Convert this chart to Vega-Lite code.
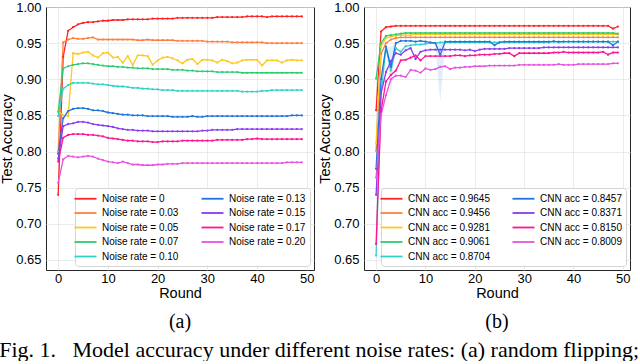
{
"$schema": "https://vega.github.io/schema/vega-lite/v6.json",
"padding": {"left": -1, "top": 0, "right": 0, "bottom": 0},
"spacing": 2,
"datasets": {
"a": [
{"r":0,"s":"0","v":0.740},{"r":1,"s":"0","v":0.931},{"r":2,"s":"0","v":0.967},{"r":3,"s":"0","v":0.972},{"r":4,"s":"0","v":0.976},{"r":5,"s":"0","v":0.978},{"r":6,"s":"0","v":0.979},{"r":7,"s":"0","v":0.979},{"r":8,"s":"0","v":0.980},{"r":9,"s":"0","v":0.981},
{"r":10,"s":"0","v":0.981},{"r":11,"s":"0","v":0.982},{"r":12,"s":"0","v":0.982},{"r":13,"s":"0","v":0.982},{"r":14,"s":"0","v":0.983},{"r":15,"s":"0","v":0.983},{"r":16,"s":"0","v":0.983},{"r":17,"s":"0","v":0.983},{"r":18,"s":"0","v":0.983},{"r":19,"s":"0","v":0.984},
{"r":20,"s":"0","v":0.984},{"r":21,"s":"0","v":0.984},{"r":22,"s":"0","v":0.984},{"r":23,"s":"0","v":0.984},{"r":24,"s":"0","v":0.985},{"r":25,"s":"0","v":0.985},{"r":26,"s":"0","v":0.985},{"r":27,"s":"0","v":0.985},{"r":28,"s":"0","v":0.985},{"r":29,"s":"0","v":0.985},
{"r":30,"s":"0","v":0.985},{"r":31,"s":"0","v":0.985},{"r":32,"s":"0","v":0.986},{"r":33,"s":"0","v":0.986},{"r":34,"s":"0","v":0.986},{"r":35,"s":"0","v":0.986},{"r":36,"s":"0","v":0.986},{"r":37,"s":"0","v":0.986},{"r":38,"s":"0","v":0.987},{"r":39,"s":"0","v":0.987},
{"r":40,"s":"0","v":0.987},{"r":41,"s":"0","v":0.987},{"r":42,"s":"0","v":0.986},{"r":43,"s":"0","v":0.987},{"r":44,"s":"0","v":0.987},{"r":45,"s":"0","v":0.987},{"r":46,"s":"0","v":0.987},{"r":47,"s":"0","v":0.987},{"r":48,"s":"0","v":0.987},{"r":49,"s":"0","v":0.987},
{"r":0,"s":"0.03","v":0.800},{"r":1,"s":"0.03","v":0.951},{"r":2,"s":"0.03","v":0.955},{"r":3,"s":"0.03","v":0.957},{"r":4,"s":"0.03","v":0.956},{"r":5,"s":"0.03","v":0.956},{"r":6,"s":"0.03","v":0.957},{"r":7,"s":"0.03","v":0.958},{"r":8,"s":"0.03","v":0.955},{"r":9,"s":"0.03","v":0.955},
{"r":10,"s":"0.03","v":0.955},{"r":11,"s":"0.03","v":0.955},{"r":12,"s":"0.03","v":0.955},{"r":13,"s":"0.03","v":0.955},{"r":14,"s":"0.03","v":0.955},{"r":15,"s":"0.03","v":0.955},{"r":16,"s":"0.03","v":0.954},{"r":17,"s":"0.03","v":0.954},{"r":18,"s":"0.03","v":0.955},{"r":19,"s":"0.03","v":0.954},
{"r":20,"s":"0.03","v":0.954},{"r":21,"s":"0.03","v":0.954},{"r":22,"s":"0.03","v":0.954},{"r":23,"s":"0.03","v":0.954},{"r":24,"s":"0.03","v":0.953},{"r":25,"s":"0.03","v":0.953},{"r":26,"s":"0.03","v":0.953},{"r":27,"s":"0.03","v":0.953},{"r":28,"s":"0.03","v":0.953},{"r":29,"s":"0.03","v":0.953},
{"r":30,"s":"0.03","v":0.952},{"r":31,"s":"0.03","v":0.952},{"r":32,"s":"0.03","v":0.952},{"r":33,"s":"0.03","v":0.952},{"r":34,"s":"0.03","v":0.952},{"r":35,"s":"0.03","v":0.951},{"r":36,"s":"0.03","v":0.951},{"r":37,"s":"0.03","v":0.951},{"r":38,"s":"0.03","v":0.951},{"r":39,"s":"0.03","v":0.951},
{"r":40,"s":"0.03","v":0.951},{"r":41,"s":"0.03","v":0.951},{"r":42,"s":"0.03","v":0.950},{"r":43,"s":"0.03","v":0.950},{"r":44,"s":"0.03","v":0.950},{"r":45,"s":"0.03","v":0.950},{"r":46,"s":"0.03","v":0.950},{"r":47,"s":"0.03","v":0.950},{"r":48,"s":"0.03","v":0.950},{"r":49,"s":"0.03","v":0.950},
{"r":0,"s":"0.05","v":0.856},{"r":1,"s":"0.05","v":0.850},{"r":2,"s":"0.05","v":0.849},{"r":3,"s":"0.05","v":0.936},{"r":4,"s":"0.05","v":0.935},{"r":5,"s":"0.05","v":0.937},{"r":6,"s":"0.05","v":0.938},{"r":7,"s":"0.05","v":0.933},{"r":8,"s":"0.05","v":0.930},{"r":9,"s":"0.05","v":0.936},
{"r":10,"s":"0.05","v":0.937},{"r":11,"s":"0.05","v":0.930},{"r":12,"s":"0.05","v":0.931},{"r":13,"s":"0.05","v":0.923},{"r":14,"s":"0.05","v":0.932},{"r":15,"s":"0.05","v":0.920},{"r":16,"s":"0.05","v":0.933},{"r":17,"s":"0.05","v":0.933},{"r":18,"s":"0.05","v":0.932},{"r":19,"s":"0.05","v":0.920},
{"r":20,"s":"0.05","v":0.926},{"r":21,"s":"0.05","v":0.930},{"r":22,"s":"0.05","v":0.931},{"r":23,"s":"0.05","v":0.929},{"r":24,"s":"0.05","v":0.926},{"r":25,"s":"0.05","v":0.922},{"r":26,"s":"0.05","v":0.927},{"r":27,"s":"0.05","v":0.928},{"r":28,"s":"0.05","v":0.921},{"r":29,"s":"0.05","v":0.927},
{"r":30,"s":"0.05","v":0.927},{"r":31,"s":"0.05","v":0.926},{"r":32,"s":"0.05","v":0.923},{"r":33,"s":"0.05","v":0.927},{"r":34,"s":"0.05","v":0.925},{"r":35,"s":"0.05","v":0.922},{"r":36,"s":"0.05","v":0.923},{"r":37,"s":"0.05","v":0.926},{"r":38,"s":"0.05","v":0.927},{"r":39,"s":"0.05","v":0.927},
{"r":40,"s":"0.05","v":0.927},{"r":41,"s":"0.05","v":0.919},{"r":42,"s":"0.05","v":0.926},{"r":43,"s":"0.05","v":0.926},{"r":44,"s":"0.05","v":0.926},{"r":45,"s":"0.05","v":0.923},{"r":46,"s":"0.05","v":0.926},{"r":47,"s":"0.05","v":0.927},{"r":48,"s":"0.05","v":0.926},{"r":49,"s":"0.05","v":0.926},
{"r":0,"s":"0.07","v":0.855},{"r":1,"s":"0.07","v":0.915},{"r":2,"s":"0.07","v":0.918},{"r":3,"s":"0.07","v":0.920},{"r":4,"s":"0.07","v":0.921},{"r":5,"s":"0.07","v":0.922},{"r":6,"s":"0.07","v":0.922},{"r":7,"s":"0.07","v":0.921},{"r":8,"s":"0.07","v":0.920},{"r":9,"s":"0.07","v":0.919},
{"r":10,"s":"0.07","v":0.918},{"r":11,"s":"0.07","v":0.918},{"r":12,"s":"0.07","v":0.917},{"r":13,"s":"0.07","v":0.917},{"r":14,"s":"0.07","v":0.916},{"r":15,"s":"0.07","v":0.916},{"r":16,"s":"0.07","v":0.915},{"r":17,"s":"0.07","v":0.915},{"r":18,"s":"0.07","v":0.915},{"r":19,"s":"0.07","v":0.914},
{"r":20,"s":"0.07","v":0.914},{"r":21,"s":"0.07","v":0.914},{"r":22,"s":"0.07","v":0.914},{"r":23,"s":"0.07","v":0.913},{"r":24,"s":"0.07","v":0.913},{"r":25,"s":"0.07","v":0.913},{"r":26,"s":"0.07","v":0.912},{"r":27,"s":"0.07","v":0.912},{"r":28,"s":"0.07","v":0.911},{"r":29,"s":"0.07","v":0.911},
{"r":30,"s":"0.07","v":0.911},{"r":31,"s":"0.07","v":0.911},{"r":32,"s":"0.07","v":0.910},{"r":33,"s":"0.07","v":0.910},{"r":34,"s":"0.07","v":0.910},{"r":35,"s":"0.07","v":0.910},{"r":36,"s":"0.07","v":0.910},{"r":37,"s":"0.07","v":0.909},{"r":38,"s":"0.07","v":0.909},{"r":39,"s":"0.07","v":0.909},
{"r":40,"s":"0.07","v":0.909},{"r":41,"s":"0.07","v":0.909},{"r":42,"s":"0.07","v":0.909},{"r":43,"s":"0.07","v":0.909},{"r":44,"s":"0.07","v":0.909},{"r":45,"s":"0.07","v":0.909},{"r":46,"s":"0.07","v":0.909},{"r":47,"s":"0.07","v":0.909},{"r":48,"s":"0.07","v":0.909},{"r":49,"s":"0.07","v":0.909},
{"r":0,"s":"0.10","v":0.849},{"r":1,"s":"0.10","v":0.887},{"r":2,"s":"0.10","v":0.892},{"r":3,"s":"0.10","v":0.895},{"r":4,"s":"0.10","v":0.895},{"r":5,"s":"0.10","v":0.895},{"r":6,"s":"0.10","v":0.895},{"r":7,"s":"0.10","v":0.894},{"r":8,"s":"0.10","v":0.893},{"r":9,"s":"0.10","v":0.893},
{"r":10,"s":"0.10","v":0.892},{"r":11,"s":"0.10","v":0.891},{"r":12,"s":"0.10","v":0.890},{"r":13,"s":"0.10","v":0.890},{"r":14,"s":"0.10","v":0.889},{"r":15,"s":"0.10","v":0.888},{"r":16,"s":"0.10","v":0.888},{"r":17,"s":"0.10","v":0.887},{"r":18,"s":"0.10","v":0.887},{"r":19,"s":"0.10","v":0.886},
{"r":20,"s":"0.10","v":0.886},{"r":21,"s":"0.10","v":0.885},{"r":22,"s":"0.10","v":0.885},{"r":23,"s":"0.10","v":0.885},{"r":24,"s":"0.10","v":0.884},{"r":25,"s":"0.10","v":0.884},{"r":26,"s":"0.10","v":0.884},{"r":27,"s":"0.10","v":0.884},{"r":28,"s":"0.10","v":0.884},{"r":29,"s":"0.10","v":0.884},
{"r":30,"s":"0.10","v":0.884},{"r":31,"s":"0.10","v":0.884},{"r":32,"s":"0.10","v":0.884},{"r":33,"s":"0.10","v":0.884},{"r":34,"s":"0.10","v":0.884},{"r":35,"s":"0.10","v":0.884},{"r":36,"s":"0.10","v":0.884},{"r":37,"s":"0.10","v":0.883},{"r":38,"s":"0.10","v":0.883},{"r":39,"s":"0.10","v":0.883},
{"r":40,"s":"0.10","v":0.883},{"r":41,"s":"0.10","v":0.884},{"r":42,"s":"0.10","v":0.884},{"r":43,"s":"0.10","v":0.885},{"r":44,"s":"0.10","v":0.885},{"r":45,"s":"0.10","v":0.885},{"r":46,"s":"0.10","v":0.885},{"r":47,"s":"0.10","v":0.885},{"r":48,"s":"0.10","v":0.885},{"r":49,"s":"0.10","v":0.885},
{"r":0,"s":"0.13","v":0.797},{"r":1,"s":"0.13","v":0.846},{"r":2,"s":"0.13","v":0.856},{"r":3,"s":"0.13","v":0.859},{"r":4,"s":"0.13","v":0.860},{"r":5,"s":"0.13","v":0.860},{"r":6,"s":"0.13","v":0.859},{"r":7,"s":"0.13","v":0.857},{"r":8,"s":"0.13","v":0.857},{"r":9,"s":"0.13","v":0.856},
{"r":10,"s":"0.13","v":0.854},{"r":11,"s":"0.13","v":0.853},{"r":12,"s":"0.13","v":0.852},{"r":13,"s":"0.13","v":0.851},{"r":14,"s":"0.13","v":0.851},{"r":15,"s":"0.13","v":0.850},{"r":16,"s":"0.13","v":0.850},{"r":17,"s":"0.13","v":0.850},{"r":18,"s":"0.13","v":0.849},{"r":19,"s":"0.13","v":0.849},
{"r":20,"s":"0.13","v":0.849},{"r":21,"s":"0.13","v":0.849},{"r":22,"s":"0.13","v":0.849},{"r":23,"s":"0.13","v":0.848},{"r":24,"s":"0.13","v":0.848},{"r":25,"s":"0.13","v":0.848},{"r":26,"s":"0.13","v":0.848},{"r":27,"s":"0.13","v":0.849},{"r":28,"s":"0.13","v":0.848},{"r":29,"s":"0.13","v":0.848},
{"r":30,"s":"0.13","v":0.849},{"r":31,"s":"0.13","v":0.849},{"r":32,"s":"0.13","v":0.849},{"r":33,"s":"0.13","v":0.849},{"r":34,"s":"0.13","v":0.849},{"r":35,"s":"0.13","v":0.849},{"r":36,"s":"0.13","v":0.849},{"r":37,"s":"0.13","v":0.849},{"r":38,"s":"0.13","v":0.849},{"r":39,"s":"0.13","v":0.849},
{"r":40,"s":"0.13","v":0.849},{"r":41,"s":"0.13","v":0.849},{"r":42,"s":"0.13","v":0.849},{"r":43,"s":"0.13","v":0.849},{"r":44,"s":"0.13","v":0.849},{"r":45,"s":"0.13","v":0.849},{"r":46,"s":"0.13","v":0.849},{"r":47,"s":"0.13","v":0.850},{"r":48,"s":"0.13","v":0.850},{"r":49,"s":"0.13","v":0.850},
{"r":0,"s":"0.15","v":0.790},{"r":1,"s":"0.15","v":0.835},{"r":2,"s":"0.15","v":0.838},{"r":3,"s":"0.15","v":0.839},{"r":4,"s":"0.15","v":0.841},{"r":5,"s":"0.15","v":0.841},{"r":6,"s":"0.15","v":0.840},{"r":7,"s":"0.15","v":0.838},{"r":8,"s":"0.15","v":0.837},{"r":9,"s":"0.15","v":0.836},
{"r":10,"s":"0.15","v":0.835},{"r":11,"s":"0.15","v":0.834},{"r":12,"s":"0.15","v":0.832},{"r":13,"s":"0.15","v":0.831},{"r":14,"s":"0.15","v":0.830},{"r":15,"s":"0.15","v":0.830},{"r":16,"s":"0.15","v":0.829},{"r":17,"s":"0.15","v":0.829},{"r":18,"s":"0.15","v":0.829},{"r":19,"s":"0.15","v":0.828},
{"r":20,"s":"0.15","v":0.828},{"r":21,"s":"0.15","v":0.828},{"r":22,"s":"0.15","v":0.828},{"r":23,"s":"0.15","v":0.828},{"r":24,"s":"0.15","v":0.828},{"r":25,"s":"0.15","v":0.828},{"r":26,"s":"0.15","v":0.828},{"r":27,"s":"0.15","v":0.828},{"r":28,"s":"0.15","v":0.828},{"r":29,"s":"0.15","v":0.829},
{"r":30,"s":"0.15","v":0.829},{"r":31,"s":"0.15","v":0.830},{"r":32,"s":"0.15","v":0.830},{"r":33,"s":"0.15","v":0.830},{"r":34,"s":"0.15","v":0.830},{"r":35,"s":"0.15","v":0.830},{"r":36,"s":"0.15","v":0.831},{"r":37,"s":"0.15","v":0.831},{"r":38,"s":"0.15","v":0.831},{"r":39,"s":"0.15","v":0.831},
{"r":40,"s":"0.15","v":0.831},{"r":41,"s":"0.15","v":0.831},{"r":42,"s":"0.15","v":0.831},{"r":43,"s":"0.15","v":0.831},{"r":44,"s":"0.15","v":0.831},{"r":45,"s":"0.15","v":0.831},{"r":46,"s":"0.15","v":0.831},{"r":47,"s":"0.15","v":0.831},{"r":48,"s":"0.15","v":0.831},{"r":49,"s":"0.15","v":0.831},
{"r":0,"s":"0.17","v":0.786},{"r":1,"s":"0.17","v":0.819},{"r":2,"s":"0.17","v":0.823},{"r":3,"s":"0.17","v":0.824},{"r":4,"s":"0.17","v":0.824},{"r":5,"s":"0.17","v":0.824},{"r":6,"s":"0.17","v":0.823},{"r":7,"s":"0.17","v":0.823},{"r":8,"s":"0.17","v":0.822},{"r":9,"s":"0.17","v":0.821},
{"r":10,"s":"0.17","v":0.819},{"r":11,"s":"0.17","v":0.818},{"r":12,"s":"0.17","v":0.817},{"r":13,"s":"0.17","v":0.816},{"r":14,"s":"0.17","v":0.815},{"r":15,"s":"0.17","v":0.815},{"r":16,"s":"0.17","v":0.814},{"r":17,"s":"0.17","v":0.814},{"r":18,"s":"0.17","v":0.814},{"r":19,"s":"0.17","v":0.813},
{"r":20,"s":"0.17","v":0.813},{"r":21,"s":"0.17","v":0.814},{"r":22,"s":"0.17","v":0.814},{"r":23,"s":"0.17","v":0.814},{"r":24,"s":"0.17","v":0.814},{"r":25,"s":"0.17","v":0.815},{"r":26,"s":"0.17","v":0.815},{"r":27,"s":"0.17","v":0.815},{"r":28,"s":"0.17","v":0.815},{"r":29,"s":"0.17","v":0.815},
{"r":30,"s":"0.17","v":0.815},{"r":31,"s":"0.17","v":0.815},{"r":32,"s":"0.17","v":0.816},{"r":33,"s":"0.17","v":0.816},{"r":34,"s":"0.17","v":0.816},{"r":35,"s":"0.17","v":0.816},{"r":36,"s":"0.17","v":0.816},{"r":37,"s":"0.17","v":0.816},{"r":38,"s":"0.17","v":0.817},{"r":39,"s":"0.17","v":0.817},
{"r":40,"s":"0.17","v":0.818},{"r":41,"s":"0.17","v":0.817},{"r":42,"s":"0.17","v":0.817},{"r":43,"s":"0.17","v":0.817},{"r":44,"s":"0.17","v":0.817},{"r":45,"s":"0.17","v":0.817},{"r":46,"s":"0.17","v":0.817},{"r":47,"s":"0.17","v":0.817},{"r":48,"s":"0.17","v":0.817},{"r":49,"s":"0.17","v":0.817},
{"r":0,"s":"0.20","v":0.757},{"r":1,"s":"0.20","v":0.789},{"r":2,"s":"0.20","v":0.794},{"r":3,"s":"0.20","v":0.793},{"r":4,"s":"0.20","v":0.792},{"r":5,"s":"0.20","v":0.793},{"r":6,"s":"0.20","v":0.794},{"r":7,"s":"0.20","v":0.793},{"r":8,"s":"0.20","v":0.790},{"r":9,"s":"0.20","v":0.788},
{"r":10,"s":"0.20","v":0.786},{"r":11,"s":"0.20","v":0.785},{"r":12,"s":"0.20","v":0.784},{"r":13,"s":"0.20","v":0.786},{"r":14,"s":"0.20","v":0.784},{"r":15,"s":"0.20","v":0.782},{"r":16,"s":"0.20","v":0.782},{"r":17,"s":"0.20","v":0.781},{"r":18,"s":"0.20","v":0.781},{"r":19,"s":"0.20","v":0.781},
{"r":20,"s":"0.20","v":0.782},{"r":21,"s":"0.20","v":0.782},{"r":22,"s":"0.20","v":0.783},{"r":23,"s":"0.20","v":0.783},{"r":24,"s":"0.20","v":0.783},{"r":25,"s":"0.20","v":0.784},{"r":26,"s":"0.20","v":0.784},{"r":27,"s":"0.20","v":0.784},{"r":28,"s":"0.20","v":0.784},{"r":29,"s":"0.20","v":0.784},
{"r":30,"s":"0.20","v":0.784},{"r":31,"s":"0.20","v":0.784},{"r":32,"s":"0.20","v":0.784},{"r":33,"s":"0.20","v":0.784},{"r":34,"s":"0.20","v":0.784},{"r":35,"s":"0.20","v":0.784},{"r":36,"s":"0.20","v":0.784},{"r":37,"s":"0.20","v":0.784},{"r":38,"s":"0.20","v":0.784},{"r":39,"s":"0.20","v":0.784},
{"r":40,"s":"0.20","v":0.784},{"r":41,"s":"0.20","v":0.784},{"r":42,"s":"0.20","v":0.784},{"r":43,"s":"0.20","v":0.784},{"r":44,"s":"0.20","v":0.784},{"r":45,"s":"0.20","v":0.784},{"r":46,"s":"0.20","v":0.785},{"r":47,"s":"0.20","v":0.785},{"r":48,"s":"0.20","v":0.785},{"r":49,"s":"0.20","v":0.785}
],
"b": [
{"r":0,"s":"0.9645","v":0.857},{"r":1,"s":"0.9645","v":0.966},{"r":2,"s":"0.9645","v":0.972},{"r":3,"s":"0.9645","v":0.973},{"r":4,"s":"0.9645","v":0.974},{"r":5,"s":"0.9645","v":0.974},{"r":6,"s":"0.9645","v":0.974},{"r":7,"s":"0.9645","v":0.974},{"r":8,"s":"0.9645","v":0.974},{"r":9,"s":"0.9645","v":0.974},
{"r":10,"s":"0.9645","v":0.974},{"r":11,"s":"0.9645","v":0.974},{"r":12,"s":"0.9645","v":0.974},{"r":13,"s":"0.9645","v":0.974},{"r":14,"s":"0.9645","v":0.974},{"r":15,"s":"0.9645","v":0.974},{"r":16,"s":"0.9645","v":0.974},{"r":17,"s":"0.9645","v":0.974},{"r":18,"s":"0.9645","v":0.974},{"r":19,"s":"0.9645","v":0.974},
{"r":20,"s":"0.9645","v":0.974},{"r":21,"s":"0.9645","v":0.974},{"r":22,"s":"0.9645","v":0.974},{"r":23,"s":"0.9645","v":0.974},{"r":24,"s":"0.9645","v":0.974},{"r":25,"s":"0.9645","v":0.974},{"r":26,"s":"0.9645","v":0.974},{"r":27,"s":"0.9645","v":0.974},{"r":28,"s":"0.9645","v":0.974},{"r":29,"s":"0.9645","v":0.974},
{"r":30,"s":"0.9645","v":0.974},{"r":31,"s":"0.9645","v":0.974},{"r":32,"s":"0.9645","v":0.974},{"r":33,"s":"0.9645","v":0.974},{"r":34,"s":"0.9645","v":0.974},{"r":35,"s":"0.9645","v":0.974},{"r":36,"s":"0.9645","v":0.974},{"r":37,"s":"0.9645","v":0.974},{"r":38,"s":"0.9645","v":0.974},{"r":39,"s":"0.9645","v":0.974},
{"r":40,"s":"0.9645","v":0.974},{"r":41,"s":"0.9645","v":0.974},{"r":42,"s":"0.9645","v":0.974},{"r":43,"s":"0.9645","v":0.974},{"r":44,"s":"0.9645","v":0.974},{"r":45,"s":"0.9645","v":0.974},{"r":46,"s":"0.9645","v":0.974},{"r":47,"s":"0.9645","v":0.974},{"r":48,"s":"0.9645","v":0.970},{"r":49,"s":"0.9645","v":0.973},
{"r":0,"s":"0.9456","v":0.801},{"r":1,"s":"0.9456","v":0.935},{"r":2,"s":"0.9456","v":0.950},{"r":3,"s":"0.9456","v":0.955},{"r":4,"s":"0.9456","v":0.957},{"r":5,"s":"0.9456","v":0.958},{"r":6,"s":"0.9456","v":0.958},{"r":7,"s":"0.9456","v":0.958},{"r":8,"s":"0.9456","v":0.958},{"r":9,"s":"0.9456","v":0.958},
{"r":10,"s":"0.9456","v":0.958},{"r":11,"s":"0.9456","v":0.958},{"r":12,"s":"0.9456","v":0.958},{"r":13,"s":"0.9456","v":0.958},{"r":14,"s":"0.9456","v":0.958},{"r":15,"s":"0.9456","v":0.958},{"r":16,"s":"0.9456","v":0.958},{"r":17,"s":"0.9456","v":0.958},{"r":18,"s":"0.9456","v":0.958},{"r":19,"s":"0.9456","v":0.958},
{"r":20,"s":"0.9456","v":0.958},{"r":21,"s":"0.9456","v":0.958},{"r":22,"s":"0.9456","v":0.958},{"r":23,"s":"0.9456","v":0.958},{"r":24,"s":"0.9456","v":0.958},{"r":25,"s":"0.9456","v":0.958},{"r":26,"s":"0.9456","v":0.958},{"r":27,"s":"0.9456","v":0.958},{"r":28,"s":"0.9456","v":0.958},{"r":29,"s":"0.9456","v":0.958},
{"r":30,"s":"0.9456","v":0.958},{"r":31,"s":"0.9456","v":0.958},{"r":32,"s":"0.9456","v":0.958},{"r":33,"s":"0.9456","v":0.958},{"r":34,"s":"0.9456","v":0.958},{"r":35,"s":"0.9456","v":0.958},{"r":36,"s":"0.9456","v":0.958},{"r":37,"s":"0.9456","v":0.958},{"r":38,"s":"0.9456","v":0.958},{"r":39,"s":"0.9456","v":0.958},
{"r":40,"s":"0.9456","v":0.958},{"r":41,"s":"0.9456","v":0.958},{"r":42,"s":"0.9456","v":0.958},{"r":43,"s":"0.9456","v":0.958},{"r":44,"s":"0.9456","v":0.958},{"r":45,"s":"0.9456","v":0.958},{"r":46,"s":"0.9456","v":0.958},{"r":47,"s":"0.9456","v":0.958},{"r":48,"s":"0.9456","v":0.958},{"r":49,"s":"0.9456","v":0.958},
{"r":0,"s":"0.9281","v":0.811},{"r":1,"s":"0.9281","v":0.945},{"r":2,"s":"0.9281","v":0.957},{"r":3,"s":"0.9281","v":0.959},{"r":4,"s":"0.9281","v":0.960},{"r":5,"s":"0.9281","v":0.961},{"r":6,"s":"0.9281","v":0.961},{"r":7,"s":"0.9281","v":0.961},{"r":8,"s":"0.9281","v":0.962},{"r":9,"s":"0.9281","v":0.962},
{"r":10,"s":"0.9281","v":0.962},{"r":11,"s":"0.9281","v":0.962},{"r":12,"s":"0.9281","v":0.962},{"r":13,"s":"0.9281","v":0.962},{"r":14,"s":"0.9281","v":0.962},{"r":15,"s":"0.9281","v":0.962},{"r":16,"s":"0.9281","v":0.962},{"r":17,"s":"0.9281","v":0.962},{"r":18,"s":"0.9281","v":0.962},{"r":19,"s":"0.9281","v":0.962},
{"r":20,"s":"0.9281","v":0.962},{"r":21,"s":"0.9281","v":0.962},{"r":22,"s":"0.9281","v":0.962},{"r":23,"s":"0.9281","v":0.962},{"r":24,"s":"0.9281","v":0.962},{"r":25,"s":"0.9281","v":0.962},{"r":26,"s":"0.9281","v":0.962},{"r":27,"s":"0.9281","v":0.962},{"r":28,"s":"0.9281","v":0.962},{"r":29,"s":"0.9281","v":0.962},
{"r":30,"s":"0.9281","v":0.962},{"r":31,"s":"0.9281","v":0.962},{"r":32,"s":"0.9281","v":0.962},{"r":33,"s":"0.9281","v":0.962},{"r":34,"s":"0.9281","v":0.962},{"r":35,"s":"0.9281","v":0.962},{"r":36,"s":"0.9281","v":0.962},{"r":37,"s":"0.9281","v":0.962},{"r":38,"s":"0.9281","v":0.962},{"r":39,"s":"0.9281","v":0.962},
{"r":40,"s":"0.9281","v":0.962},{"r":41,"s":"0.9281","v":0.962},{"r":42,"s":"0.9281","v":0.962},{"r":43,"s":"0.9281","v":0.962},{"r":44,"s":"0.9281","v":0.962},{"r":45,"s":"0.9281","v":0.962},{"r":46,"s":"0.9281","v":0.962},{"r":47,"s":"0.9281","v":0.962},{"r":48,"s":"0.9281","v":0.962},{"r":49,"s":"0.9281","v":0.962},
{"r":0,"s":"0.9061","v":0.901},{"r":1,"s":"0.9061","v":0.950},{"r":2,"s":"0.9061","v":0.960},{"r":3,"s":"0.9061","v":0.961},{"r":4,"s":"0.9061","v":0.962},{"r":5,"s":"0.9061","v":0.963},{"r":6,"s":"0.9061","v":0.964},{"r":7,"s":"0.9061","v":0.964},{"r":8,"s":"0.9061","v":0.964},{"r":9,"s":"0.9061","v":0.964},
{"r":10,"s":"0.9061","v":0.964},{"r":11,"s":"0.9061","v":0.964},{"r":12,"s":"0.9061","v":0.964},{"r":13,"s":"0.9061","v":0.964},{"r":14,"s":"0.9061","v":0.964},{"r":15,"s":"0.9061","v":0.964},{"r":16,"s":"0.9061","v":0.964},{"r":17,"s":"0.9061","v":0.964},{"r":18,"s":"0.9061","v":0.964},{"r":19,"s":"0.9061","v":0.964},
{"r":20,"s":"0.9061","v":0.964},{"r":21,"s":"0.9061","v":0.964},{"r":22,"s":"0.9061","v":0.964},{"r":23,"s":"0.9061","v":0.964},{"r":24,"s":"0.9061","v":0.964},{"r":25,"s":"0.9061","v":0.964},{"r":26,"s":"0.9061","v":0.964},{"r":27,"s":"0.9061","v":0.964},{"r":28,"s":"0.9061","v":0.964},{"r":29,"s":"0.9061","v":0.964},
{"r":30,"s":"0.9061","v":0.964},{"r":31,"s":"0.9061","v":0.964},{"r":32,"s":"0.9061","v":0.964},{"r":33,"s":"0.9061","v":0.964},{"r":34,"s":"0.9061","v":0.964},{"r":35,"s":"0.9061","v":0.964},{"r":36,"s":"0.9061","v":0.964},{"r":37,"s":"0.9061","v":0.964},{"r":38,"s":"0.9061","v":0.964},{"r":39,"s":"0.9061","v":0.964},
{"r":40,"s":"0.9061","v":0.964},{"r":41,"s":"0.9061","v":0.964},{"r":42,"s":"0.9061","v":0.964},{"r":43,"s":"0.9061","v":0.964},{"r":44,"s":"0.9061","v":0.964},{"r":45,"s":"0.9061","v":0.964},{"r":46,"s":"0.9061","v":0.964},{"r":47,"s":"0.9061","v":0.964},{"r":48,"s":"0.9061","v":0.964},{"r":49,"s":"0.9061","v":0.963},
{"r":0,"s":"0.8704","v":0.656},{"r":1,"s":"0.8704","v":0.880},{"r":2,"s":"0.8704","v":0.944},{"r":3,"s":"0.8704","v":0.912},{"r":4,"s":"0.8704","v":0.943},{"r":5,"s":"0.8704","v":0.938},{"r":6,"s":"0.8704","v":0.946},{"r":7,"s":"0.8704","v":0.947},{"r":8,"s":"0.8704","v":0.948},{"r":9,"s":"0.8704","v":0.948},
{"r":10,"s":"0.8704","v":0.949},{"r":11,"s":"0.8704","v":0.950},{"r":12,"s":"0.8704","v":0.950},{"r":13,"s":"0.8704","v":0.951},{"r":14,"s":"0.8704","v":0.951},{"r":15,"s":"0.8704","v":0.951},{"r":16,"s":"0.8704","v":0.951},{"r":17,"s":"0.8704","v":0.951},{"r":18,"s":"0.8704","v":0.951},{"r":19,"s":"0.8704","v":0.951},
{"r":20,"s":"0.8704","v":0.951},{"r":21,"s":"0.8704","v":0.951},{"r":22,"s":"0.8704","v":0.951},{"r":23,"s":"0.8704","v":0.951},{"r":24,"s":"0.8704","v":0.951},{"r":25,"s":"0.8704","v":0.951},{"r":26,"s":"0.8704","v":0.951},{"r":27,"s":"0.8704","v":0.951},{"r":28,"s":"0.8704","v":0.951},{"r":29,"s":"0.8704","v":0.951},
{"r":30,"s":"0.8704","v":0.951},{"r":31,"s":"0.8704","v":0.951},{"r":32,"s":"0.8704","v":0.951},{"r":33,"s":"0.8704","v":0.951},{"r":34,"s":"0.8704","v":0.951},{"r":35,"s":"0.8704","v":0.951},{"r":36,"s":"0.8704","v":0.953},{"r":37,"s":"0.8704","v":0.951},{"r":38,"s":"0.8704","v":0.952},{"r":39,"s":"0.8704","v":0.952},
{"r":40,"s":"0.8704","v":0.952},{"r":41,"s":"0.8704","v":0.952},{"r":42,"s":"0.8704","v":0.952},{"r":43,"s":"0.8704","v":0.952},{"r":44,"s":"0.8704","v":0.952},{"r":45,"s":"0.8704","v":0.952},{"r":46,"s":"0.8704","v":0.952},{"r":47,"s":"0.8704","v":0.952},{"r":48,"s":"0.8704","v":0.952},{"r":49,"s":"0.8704","v":0.952},
{"r":0,"s":"0.8457","v":0.776},{"r":1,"s":"0.8457","v":0.900},{"r":2,"s":"0.8457","v":0.945},{"r":3,"s":"0.8457","v":0.917},{"r":4,"s":"0.8457","v":0.950},{"r":5,"s":"0.8457","v":0.953},{"r":6,"s":"0.8457","v":0.953},{"r":7,"s":"0.8457","v":0.953},{"r":8,"s":"0.8457","v":0.952},{"r":9,"s":"0.8457","v":0.953},
{"r":10,"s":"0.8457","v":0.952},{"r":11,"s":"0.8457","v":0.951},{"r":12,"s":"0.8457","v":0.950},{"r":13,"s":"0.8457","v":0.934},{"r":14,"s":"0.8457","v":0.952},{"r":15,"s":"0.8457","v":0.952},{"r":16,"s":"0.8457","v":0.952},{"r":17,"s":"0.8457","v":0.952},{"r":18,"s":"0.8457","v":0.952},{"r":19,"s":"0.8457","v":0.952},
{"r":20,"s":"0.8457","v":0.952},{"r":21,"s":"0.8457","v":0.952},{"r":22,"s":"0.8457","v":0.952},{"r":23,"s":"0.8457","v":0.952},{"r":24,"s":"0.8457","v":0.947},{"r":25,"s":"0.8457","v":0.951},{"r":26,"s":"0.8457","v":0.952},{"r":27,"s":"0.8457","v":0.952},{"r":28,"s":"0.8457","v":0.952},{"r":29,"s":"0.8457","v":0.952},
{"r":30,"s":"0.8457","v":0.952},{"r":31,"s":"0.8457","v":0.952},{"r":32,"s":"0.8457","v":0.952},{"r":33,"s":"0.8457","v":0.952},{"r":34,"s":"0.8457","v":0.952},{"r":35,"s":"0.8457","v":0.952},{"r":36,"s":"0.8457","v":0.952},{"r":37,"s":"0.8457","v":0.952},{"r":38,"s":"0.8457","v":0.952},{"r":39,"s":"0.8457","v":0.952},
{"r":40,"s":"0.8457","v":0.952},{"r":41,"s":"0.8457","v":0.952},{"r":42,"s":"0.8457","v":0.952},{"r":43,"s":"0.8457","v":0.952},{"r":44,"s":"0.8457","v":0.952},{"r":45,"s":"0.8457","v":0.952},{"r":46,"s":"0.8457","v":0.952},{"r":47,"s":"0.8457","v":0.952},{"r":48,"s":"0.8457","v":0.947},{"r":49,"s":"0.8457","v":0.952},
{"r":0,"s":"0.8371","v":0.740},{"r":1,"s":"0.8371","v":0.880},{"r":2,"s":"0.8371","v":0.910},{"r":3,"s":"0.8371","v":0.925},{"r":4,"s":"0.8371","v":0.936},{"r":5,"s":"0.8371","v":0.934},{"r":6,"s":"0.8371","v":0.940},{"r":7,"s":"0.8371","v":0.943},{"r":8,"s":"0.8371","v":0.928},{"r":9,"s":"0.8371","v":0.938},
{"r":10,"s":"0.8371","v":0.940},{"r":11,"s":"0.8371","v":0.941},{"r":12,"s":"0.8371","v":0.941},{"r":13,"s":"0.8371","v":0.941},{"r":14,"s":"0.8371","v":0.941},{"r":15,"s":"0.8371","v":0.941},{"r":16,"s":"0.8371","v":0.941},{"r":17,"s":"0.8371","v":0.941},{"r":18,"s":"0.8371","v":0.940},{"r":19,"s":"0.8371","v":0.941},
{"r":20,"s":"0.8371","v":0.939},{"r":21,"s":"0.8371","v":0.941},{"r":22,"s":"0.8371","v":0.942},{"r":23,"s":"0.8371","v":0.942},{"r":24,"s":"0.8371","v":0.942},{"r":25,"s":"0.8371","v":0.942},{"r":26,"s":"0.8371","v":0.942},{"r":27,"s":"0.8371","v":0.943},{"r":28,"s":"0.8371","v":0.943},{"r":29,"s":"0.8371","v":0.943},
{"r":30,"s":"0.8371","v":0.943},{"r":31,"s":"0.8371","v":0.943},{"r":32,"s":"0.8371","v":0.943},{"r":33,"s":"0.8371","v":0.943},{"r":34,"s":"0.8371","v":0.944},{"r":35,"s":"0.8371","v":0.944},{"r":36,"s":"0.8371","v":0.944},{"r":37,"s":"0.8371","v":0.944},{"r":38,"s":"0.8371","v":0.944},{"r":39,"s":"0.8371","v":0.944},
{"r":40,"s":"0.8371","v":0.944},{"r":41,"s":"0.8371","v":0.944},{"r":42,"s":"0.8371","v":0.944},{"r":43,"s":"0.8371","v":0.944},{"r":44,"s":"0.8371","v":0.944},{"r":45,"s":"0.8371","v":0.944},{"r":46,"s":"0.8371","v":0.944},{"r":47,"s":"0.8371","v":0.944},{"r":48,"s":"0.8371","v":0.944},{"r":49,"s":"0.8371","v":0.944},
{"r":0,"s":"0.8150","v":0.672},{"r":1,"s":"0.8150","v":0.856},{"r":2,"s":"0.8150","v":0.897},{"r":3,"s":"0.8150","v":0.906},{"r":4,"s":"0.8150","v":0.912},{"r":5,"s":"0.8150","v":0.926},{"r":6,"s":"0.8150","v":0.927},{"r":7,"s":"0.8150","v":0.930},{"r":8,"s":"0.8150","v":0.933},{"r":9,"s":"0.8150","v":0.926},
{"r":10,"s":"0.8150","v":0.932},{"r":11,"s":"0.8150","v":0.932},{"r":12,"s":"0.8150","v":0.932},{"r":13,"s":"0.8150","v":0.932},{"r":14,"s":"0.8150","v":0.932},{"r":15,"s":"0.8150","v":0.932},{"r":16,"s":"0.8150","v":0.933},{"r":17,"s":"0.8150","v":0.933},{"r":18,"s":"0.8150","v":0.932},{"r":19,"s":"0.8150","v":0.933},
{"r":20,"s":"0.8150","v":0.933},{"r":21,"s":"0.8150","v":0.934},{"r":22,"s":"0.8150","v":0.934},{"r":23,"s":"0.8150","v":0.934},{"r":24,"s":"0.8150","v":0.935},{"r":25,"s":"0.8150","v":0.935},{"r":26,"s":"0.8150","v":0.936},{"r":27,"s":"0.8150","v":0.936},{"r":28,"s":"0.8150","v":0.932},{"r":29,"s":"0.8150","v":0.936},
{"r":30,"s":"0.8150","v":0.936},{"r":31,"s":"0.8150","v":0.936},{"r":32,"s":"0.8150","v":0.936},{"r":33,"s":"0.8150","v":0.936},{"r":34,"s":"0.8150","v":0.936},{"r":35,"s":"0.8150","v":0.936},{"r":36,"s":"0.8150","v":0.937},{"r":37,"s":"0.8150","v":0.937},{"r":38,"s":"0.8150","v":0.938},{"r":39,"s":"0.8150","v":0.937},
{"r":40,"s":"0.8150","v":0.937},{"r":41,"s":"0.8150","v":0.937},{"r":42,"s":"0.8150","v":0.937},{"r":43,"s":"0.8150","v":0.937},{"r":44,"s":"0.8150","v":0.937},{"r":45,"s":"0.8150","v":0.937},{"r":46,"s":"0.8150","v":0.938},{"r":47,"s":"0.8150","v":0.934},{"r":48,"s":"0.8150","v":0.937},{"r":49,"s":"0.8150","v":0.937},
{"r":0,"s":"0.8009","v":0.764},{"r":1,"s":"0.8009","v":0.850},{"r":2,"s":"0.8009","v":0.878},{"r":3,"s":"0.8009","v":0.900},{"r":4,"s":"0.8009","v":0.905},{"r":5,"s":"0.8009","v":0.905},{"r":6,"s":"0.8009","v":0.903},{"r":7,"s":"0.8009","v":0.913},{"r":8,"s":"0.8009","v":0.912},{"r":9,"s":"0.8009","v":0.909},
{"r":10,"s":"0.8009","v":0.915},{"r":11,"s":"0.8009","v":0.913},{"r":12,"s":"0.8009","v":0.914},{"r":13,"s":"0.8009","v":0.917},{"r":14,"s":"0.8009","v":0.918},{"r":15,"s":"0.8009","v":0.914},{"r":16,"s":"0.8009","v":0.916},{"r":17,"s":"0.8009","v":0.916},{"r":18,"s":"0.8009","v":0.917},{"r":19,"s":"0.8009","v":0.917},
{"r":20,"s":"0.8009","v":0.918},{"r":21,"s":"0.8009","v":0.918},{"r":22,"s":"0.8009","v":0.918},{"r":23,"s":"0.8009","v":0.919},{"r":24,"s":"0.8009","v":0.919},{"r":25,"s":"0.8009","v":0.919},{"r":26,"s":"0.8009","v":0.919},{"r":27,"s":"0.8009","v":0.919},{"r":28,"s":"0.8009","v":0.919},{"r":29,"s":"0.8009","v":0.920},
{"r":30,"s":"0.8009","v":0.920},{"r":31,"s":"0.8009","v":0.920},{"r":32,"s":"0.8009","v":0.920},{"r":33,"s":"0.8009","v":0.920},{"r":34,"s":"0.8009","v":0.920},{"r":35,"s":"0.8009","v":0.920},{"r":36,"s":"0.8009","v":0.920},{"r":37,"s":"0.8009","v":0.921},{"r":38,"s":"0.8009","v":0.920},{"r":39,"s":"0.8009","v":0.920},
{"r":40,"s":"0.8009","v":0.920},{"r":41,"s":"0.8009","v":0.921},{"r":42,"s":"0.8009","v":0.921},{"r":43,"s":"0.8009","v":0.921},{"r":44,"s":"0.8009","v":0.921},{"r":45,"s":"0.8009","v":0.921},{"r":46,"s":"0.8009","v":0.921},{"r":47,"s":"0.8009","v":0.921},{"r":48,"s":"0.8009","v":0.922},{"r":49,"s":"0.8009","v":0.922}
],
"bb": [
{"g":1,"r":2,"lo":0.945,"hi":0.945},{"g":1,"r":3,"lo":0.879,"hi":0.945},{"g":1,"r":4,"lo":0.950,"hi":0.950},
{"g":2,"r":12,"lo":0.950,"hi":0.950},{"g":2,"r":13,"lo":0.868,"hi":0.950},{"g":2,"r":14,"lo":0.952,"hi":0.952}
]
},
"config": {
"view": {"stroke": "#262626", "strokeWidth": 1},
"axis": {"grid": true, "gridColor": "#e6e6e6", "gridWidth": 0.8, "domain": false, "ticks": false, "labelOverlap": false, "labelFont": "Liberation Sans", "labelFontSize": 13, "labelColor": "#000000", "titleFont": "Liberation Sans", "titleFontSize": 14.5, "titleFontWeight": "normal", "titleColor": "#000000"},
"axisX": {"labelPadding": 2, "titlePadding": 1},
"axisY": {"labelPadding": 5, "titlePadding": 1},
"legend": {"orient": "bottom-right", "columns": 2, "offset": 4, "padding": 4, "strokeColor": "#d5d5d5", "fillColor": "#ffffff", "cornerRadius": 3, "labelFont": "Liberation Sans", "labelFontSize": 10, "labelColor": "#000000", "symbolType": "M-2,0L2,0", "symbolSize": 121, "symbolStrokeWidth": 1.8, "columnPadding": 18, "rowPadding": 2.5, "labelOffset": 10, "labelLimit": 200},
"title": {"font": "Liberation Serif", "fontWeight": "normal", "color": "#000000"}
},
"title": {"text": "Fig. 1.\u00a0\u00a0 Model accuracy under different noise rates: (a) random flipping;", "orient": "bottom", "anchor": "start", "fontSize": 22, "offset": 8},
"hconcat": [
{
"width": 268, "height": 263,
"title": {"text": "(a)", "orient": "bottom", "fontSize": 20, "offset": 12},
"data": {"name": "a"},
"mark": {"type": "line", "strokeWidth": 1.3, "point": {"filled": true, "size": 5}},
"encoding": {
"x": {"field": "r", "type": "quantitative", "title": "Round", "scale": {"domain": [-2.45, 51.45], "nice": false, "zero": false}, "axis": {"values": [0, 10, 20, 30, 40, 50]}},
"y": {"field": "v", "type": "quantitative", "title": "Test Accuracy", "scale": {"domain": [0.636, 1.0], "nice": false, "zero": false}, "axis": {"values": [0.65, 0.7, 0.75, 0.8, 0.85, 0.9, 0.95, 1.0], "format": ".2f"}},
"color": {"field": "s", "type": "nominal", "scale": {"domain": ["0", "0.03", "0.05", "0.07", "0.10", "0.13", "0.15", "0.17", "0.20"], "range": ["#ff2222", "#ff7f3f", "#ffc81e", "#2fcc6e", "#2fd3c8", "#1f74de", "#8a3cf0", "#ff1493", "#e852dd"]}, "legend": {"title": null, "labelExpr": "'Noise rate = ' + datum.label"}}
}
},
{
"width": 266, "height": 263,
"title": {"text": "(b)", "orient": "bottom", "fontSize": 20, "offset": 12},
"layer": [
{
"data": {"name": "bb"},
"mark": {"type": "area", "color": "#1f74de", "opacity": 0.13},
"encoding": {
"x": {"field": "r", "type": "quantitative", "title": "Round", "scale": {"domain": [-2.45, 51.45], "nice": false, "zero": false}, "axis": {"values": [0, 10, 20, 30, 40, 50]}},
"y": {"field": "lo", "type": "quantitative", "title": "Test Accuracy", "scale": {"domain": [0.636, 1.0], "nice": false, "zero": false}, "axis": {"values": [0.65, 0.7, 0.75, 0.8, 0.85, 0.9, 0.95, 1.0], "format": ".2f"}},
"y2": {"field": "hi"},
"detail": {"field": "g", "type": "nominal"}
}
},
{
"data": {"name": "b"},
"mark": {"type": "line", "strokeWidth": 1.3, "point": {"filled": true, "size": 5}},
"encoding": {
"x": {"field": "r", "type": "quantitative", "title": "Round", "scale": {"domain": [-2.45, 51.45], "nice": false, "zero": false}, "axis": {"values": [0, 10, 20, 30, 40, 50]}},
"y": {"field": "v", "type": "quantitative", "title": "Test Accuracy", "scale": {"domain": [0.636, 1.0], "nice": false, "zero": false}, "axis": {"values": [0.65, 0.7, 0.75, 0.8, 0.85, 0.9, 0.95, 1.0], "format": ".2f"}},
"color": {"field": "s", "type": "nominal", "scale": {"domain": ["0.9645", "0.9456", "0.9281", "0.9061", "0.8704", "0.8457", "0.8371", "0.8150", "0.8009"], "range": ["#ff2222", "#ff7f3f", "#ffc81e", "#2fcc6e", "#2fd3c8", "#1f74de", "#8a3cf0", "#ff1493", "#e852dd"]}, "legend": {"title": null, "labelExpr": "'CNN acc = ' + datum.label"}}
}
}
]
}
],
"resolve": {"scale": {"color": "independent"}, "legend": {"color": "independent"}}
}
